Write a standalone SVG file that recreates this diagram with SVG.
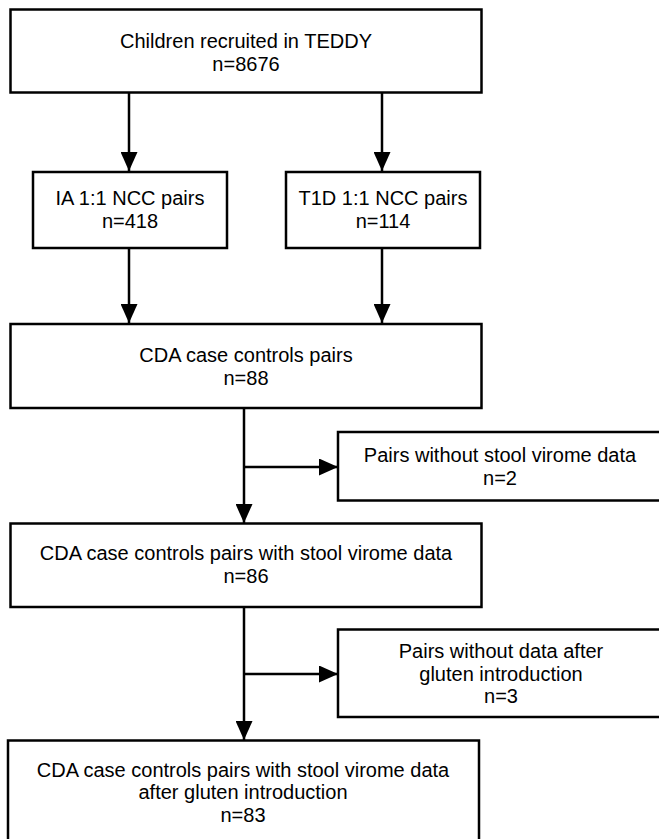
<svg xmlns="http://www.w3.org/2000/svg" width="659" height="839" viewBox="0 0 659 839">
<style>
.box{fill:#fff;stroke:#000;stroke-width:2.5}
.t{font-family:"Liberation Sans",Arial,sans-serif;font-size:20px;fill:#000;text-anchor:middle}
.c{fill:none;stroke:#000;stroke-width:2.5}
</style>
<defs>
<marker id="ah" markerUnits="userSpaceOnUse" markerWidth="19" markerHeight="17" refX="19" refY="8.5" orient="auto">
<path d="M0,0 L19,8.5 L0,17 z" fill="#000"/>
</marker>
</defs>
<rect width="659" height="839" fill="#fff"/>
<g id="connectors">
<line class="c" x1="129" y1="93" x2="129" y2="171" marker-end="url(#ah)"/>
<line class="c" x1="382" y1="93" x2="382" y2="171" marker-end="url(#ah)"/>
<line class="c" x1="129" y1="248" x2="129" y2="323" marker-end="url(#ah)"/>
<line class="c" x1="382" y1="248" x2="382" y2="323" marker-end="url(#ah)"/>
<line class="c" x1="244" y1="408" x2="244" y2="523" marker-end="url(#ah)"/>
<line class="c" x1="244" y1="467" x2="338" y2="467" marker-end="url(#ah)"/>
<line class="c" x1="244" y1="607" x2="244" y2="740" marker-end="url(#ah)"/>
<line class="c" x1="244" y1="674" x2="338" y2="674" marker-end="url(#ah)"/>
</g>
<g id="n1">
<rect class="box" x="10.5" y="9.5" width="471" height="83"/>
<text class="t" x="246" y="48">Children recruited in TEDDY</text>
<text class="t" x="246" y="71">n=8676</text>
</g>
<g id="n2">
<rect class="box" x="33" y="172" width="194" height="76"/>
<text class="t" x="130" y="205">IA 1:1 NCC pairs</text>
<text class="t" x="130" y="228">n=418</text>
</g>
<g id="n3">
<rect class="box" x="286" y="172" width="194" height="76"/>
<text class="t" x="383" y="205">T1D 1:1 NCC pairs</text>
<text class="t" x="383" y="228">n=114</text>
</g>
<g id="n4">
<rect class="box" x="10.5" y="324" width="471" height="84"/>
<text class="t" x="246" y="362">CDA case controls pairs</text>
<text class="t" x="246" y="385">n=88</text>
</g>
<g id="n5">
<rect class="box" x="338" y="432" width="330" height="68.5"/>
<text class="t" x="500" y="462">Pairs without stool virome data</text>
<text class="t" x="500" y="485">n=2</text>
</g>
<g id="n6">
<rect class="box" x="10.5" y="523.5" width="471" height="83.5"/>
<text class="t" x="246" y="560">CDA case controls pairs with stool virome data</text>
<text class="t" x="246" y="583">n=86</text>
</g>
<g id="n7">
<rect class="box" x="338" y="629.5" width="330" height="87.5"/>
<text class="t" x="501" y="658">Pairs without data after</text>
<text class="t" x="501" y="681">gluten introduction</text>
<text class="t" x="501" y="703">n=3</text>
</g>
<g id="n8">
<rect class="box" x="8" y="740.5" width="471" height="110"/>
<text class="t" x="243" y="777">CDA case controls pairs with stool virome data</text>
<text class="t" x="243" y="799">after gluten introduction</text>
<text class="t" x="243" y="822">n=83</text>
</g>
</svg>
